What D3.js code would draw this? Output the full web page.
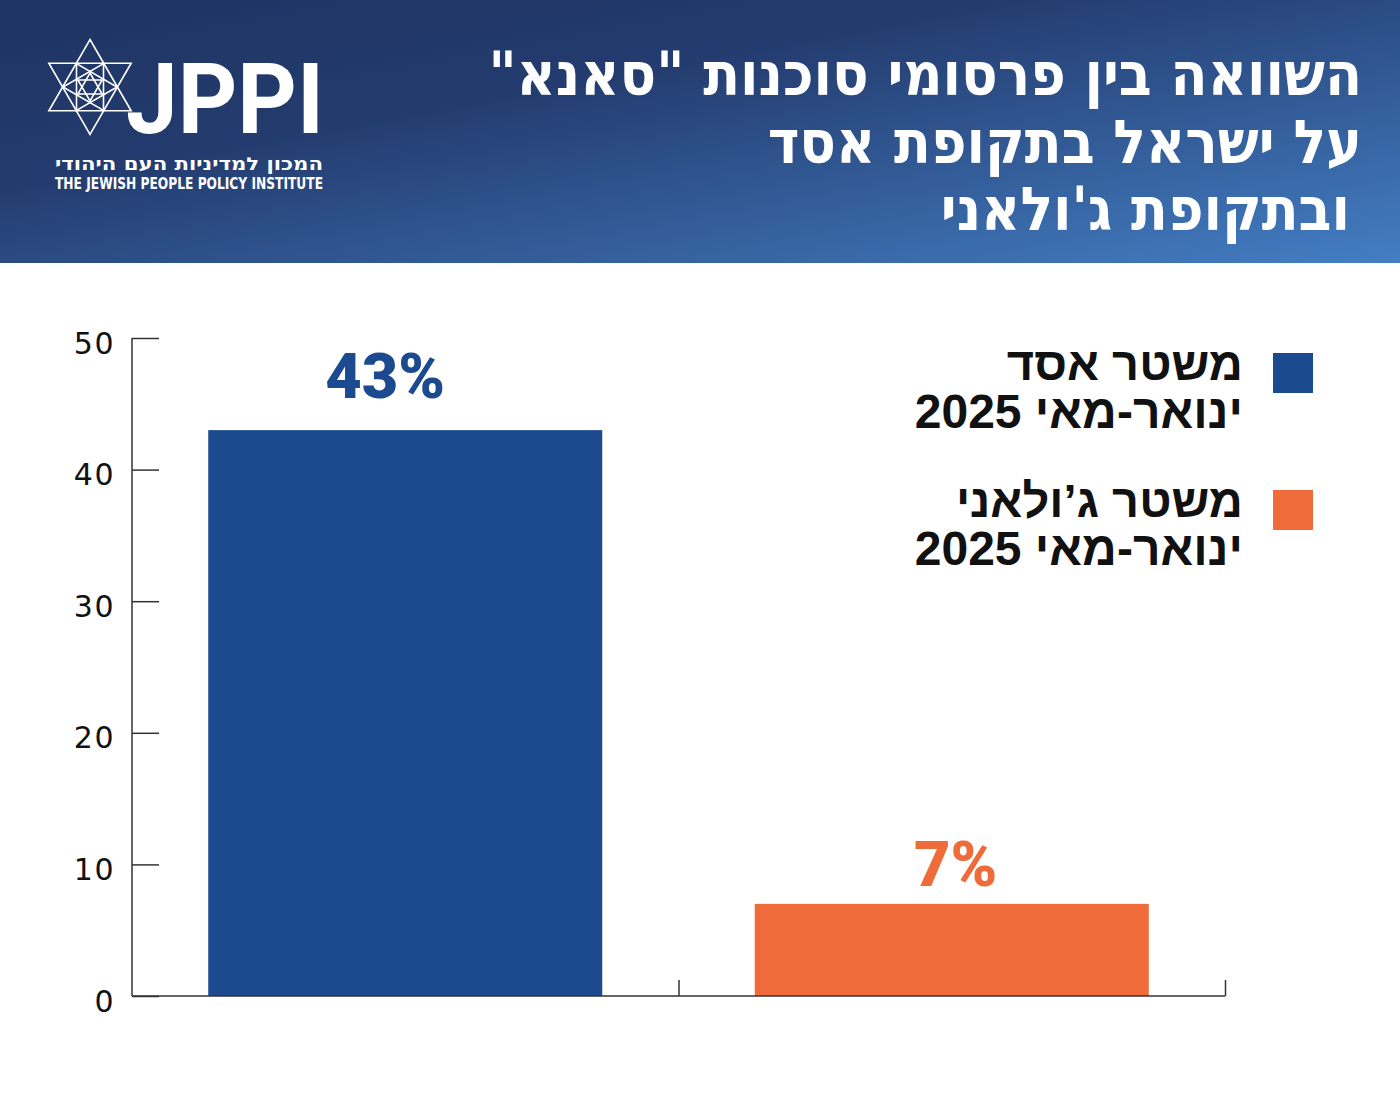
<!DOCTYPE html>
<html><head><meta charset="utf-8">
<script src="https://cdn.jsdelivr.net/npm/d3@7"></script>
<style>body{margin:0;background:#fff}svg{display:block}</style>
</head><body>
<script>
const categories = ["משטר אסד", "משטר ג'ולאני"];
const values = [43, 7];
const valueLabels = ["43%", "7%"];
const colors = ["#1c4a8f", "#f06b3a"];
const legendLine1 = ["משטר אסד", "משטר ג’ולאני"];
const legendLine2 = ["ינואר-מאי 2025", "ינואר-מאי 2025"];
const yTicks = [0, 10, 20, 30, 40, 50];
const titleLines = ["השוואה בין פרסומי  סוכנות \"סאנא\"", "על ישראל בתקופת אסד", "ובתקופת ג'ולאני"];

const W = 1400, H = 1096;
const svg = d3.select("body").append("svg").attr("width", W).attr("height", H);
const defs = svg.append("defs");
const g = defs.append("linearGradient").attr("id","hdr").attr("x1","0").attr("y1","0").attr("x2","1").attr("y2","1");
g.append("stop").attr("offset","0").attr("stop-color","#1e3462");
g.append("stop").attr("offset","0.35").attr("stop-color","#233b6e");
g.append("stop").attr("offset","1").attr("stop-color","#437ec3");
svg.append("rect").attr("x",0).attr("y",0).attr("width",W).attr("height",263).attr("fill","url(#hdr)");

// Logo star
const cx = 90, cy = 87;
function tri(r, rot){
  return d3.range(3).map(i => {
    const a = rot + i*2*Math.PI/3 - Math.PI/2;
    return [cx + r*Math.cos(a), cy + r*Math.sin(a)];
  });
}
const logo = svg.append("g").attr("fill","none").attr("stroke","#fff").attr("stroke-width",1.6);
[[47.5,0],[47.5,Math.PI/3],[27,Math.PI/6],[27,Math.PI/2],[14,0],[14,Math.PI/3]].forEach(([r,rot])=>{
  logo.append("polygon").attr("points", tri(r,rot).map(p=>p.join(",")).join(" "));
});
svg.append("text").attr("x",126).attr("y",133).attr("fill","#fff")
  .attr("font-family","Roboto, 'Liberation Sans', sans-serif").attr("font-weight",700)
  .attr("font-size",92).attr("transform","translate(0,133) scale(1,1.07) translate(0,-133)")
  .attr("textLength",198).attr("lengthAdjust","spacingAndGlyphs").text("JPPI");
svg.append("text").attr("x",323).attr("y",170).attr("fill","#fff").attr("text-anchor","start")
  .attr("direction","rtl")
  .attr("font-family","'DejaVu Sans Condensed', 'DejaVu Sans', sans-serif").attr("font-weight",700)
  .attr("font-size",17.5).attr("textLength",268).attr("lengthAdjust","spacingAndGlyphs")
  .text("המכון למדיניות העם היהודי");
svg.append("text").attr("x",55).attr("y",189).attr("fill","#fff")
  .attr("font-family","'DejaVu Sans Condensed', 'DejaVu Sans', sans-serif").attr("font-weight",700)
  .attr("font-size",15.5).attr("textLength",268).attr("lengthAdjust","spacingAndGlyphs")
  .text("THE JEWISH PEOPLE POLICY INSTITUTE");

// Title
const titleX = [1362, 1362, 1350];
const titleY = [95, 163, 230];
titleLines.forEach((t,i)=>{
  svg.append("text").attr("x",titleX[i]).attr("y",titleY[i]).attr("fill","#fff")
    .attr("text-anchor","start").attr("direction","rtl")
    .attr("font-family","'DejaVu Sans Condensed', 'DejaVu Sans', sans-serif").attr("font-weight",700)
    .attr("font-size",60).text(t);
});

// Chart
const x0 = 132, x1 = 1225, yTop = 338, yBot = 996;
const x = d3.scaleBand().domain(categories).range([x0, x1]).paddingInner(0.279).paddingOuter(0.1395);
const y = d3.scaleLinear().domain([0, 50]).range([yBot, yTop]);

svg.selectAll("rect.bar").data(values).enter().append("rect").attr("class","bar")
  .attr("x",(d,i)=>x(categories[i])).attr("width",x.bandwidth())
  .attr("y",d=>y(d)).attr("height",d=>yBot-y(d)).attr("fill",(d,i)=>colors[i]);

svg.selectAll("text.val").data(values).enter().append("text").attr("class","val")
  .attr("x",(d,i)=>x(categories[i])+x.bandwidth()/2 - (i===0?20:-4))
  .attr("y",(d,i)=>y(d) - (i===0?32:18))
  .attr("text-anchor","middle").attr("fill",(d,i)=>colors[i])
  .attr("font-family","Roboto, 'Liberation Sans', sans-serif").attr("font-weight",900)
  .attr("font-size",63).text((d,i)=>valueLabels[i]);

const yAxis = d3.axisRight(y).tickValues(yTicks).tickSize(27).tickFormat(d3.format("d"));
const ya = svg.append("g").attr("transform",`translate(${x0},0)`).call(yAxis);
ya.select(".domain").attr("stroke","#333").attr("stroke-width",1.5).attr("d",`M0,${yTop}V${yBot}`);
ya.selectAll(".tick line").attr("stroke","#333").attr("stroke-width",1.5);
ya.selectAll(".tick text").attr("x",-17).attr("text-anchor","end").attr("dy","0.5em")
  .attr("font-family","'DejaVu Sans', sans-serif").attr("font-size",30).attr("letter-spacing",1.5).attr("fill","#111");

const xb = d3.scaleLinear().domain([0,2]).range([x0,x1]);
const xAxis = d3.axisTop(xb).tickValues([1,2]).tickSize(16).tickFormat("");
const xa = svg.append("g").attr("transform",`translate(0,${yBot})`).call(xAxis);
xa.select(".domain").attr("stroke","#333").attr("stroke-width",1.5).attr("d",`M${x0},0H${x1}`);
xa.selectAll(".tick line").attr("stroke","#333").attr("stroke-width",1.5);

// Legend
const legY = [353, 490];
categories.forEach((c,i)=>{
  svg.append("rect").attr("x",1273).attr("y",legY[i]).attr("width",40).attr("height",40).attr("fill",colors[i]);
  svg.append("text").attr("x",1243).attr("y",legY[i]+27).attr("direction","rtl").attr("text-anchor","start")
    .attr("font-family","'Liberation Sans', Arial, sans-serif").attr("font-weight",700)
    .attr("font-size",47).attr("fill","#111").text(legendLine1[i]);
  svg.append("text").attr("x",1243).attr("y",legY[i]+75).attr("direction","rtl").attr("text-anchor","start")
    .attr("font-family","'Liberation Sans', Arial, sans-serif").attr("font-weight",700)
    .attr("font-size",48).attr("fill","#111").text(legendLine2[i]);
});
</script>
</body></html>
